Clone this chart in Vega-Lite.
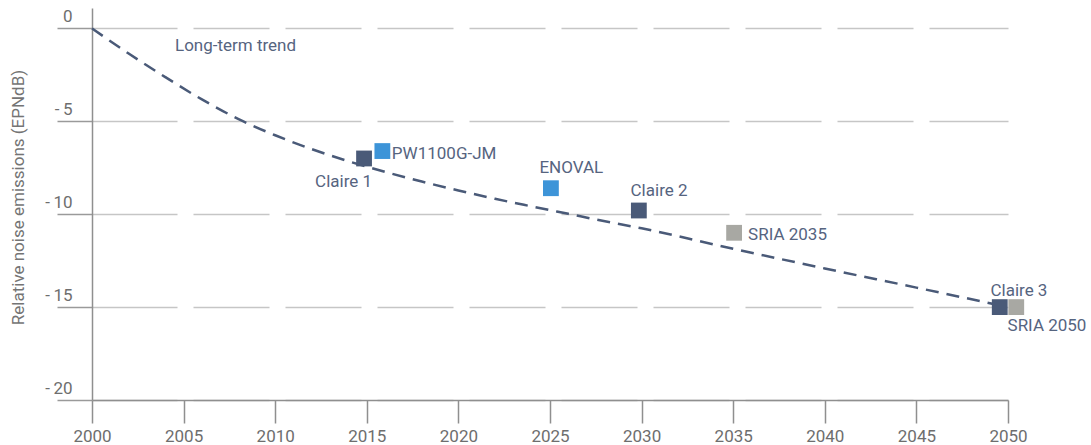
{
  "$schema": "https://vega.github.io/schema/vega-lite/v6.json",
  "width": 916,
  "height": 392,
  "autosize": {"type": "none"},
  "padding": {"left": 92, "top": 8, "right": 83, "bottom": 45},
  "background": "white",
  "config": {"view": {"stroke": null}, "font": "Roboto"},
  "datasets": {
    "trend": [
      {"year": 2000, "value": 0},
      {"year": 2002, "value": -1.35},
      {"year": 2004, "value": -2.62},
      {"year": 2006, "value": -3.82},
      {"year": 2008, "value": -4.88},
      {"year": 2010, "value": -5.75},
      {"year": 2012, "value": -6.5},
      {"year": 2014, "value": -7.15},
      {"year": 2016, "value": -7.72},
      {"year": 2018, "value": -8.24},
      {"year": 2020, "value": -8.72},
      {"year": 2022, "value": -9.17},
      {"year": 2024, "value": -9.58},
      {"year": 2026, "value": -9.98},
      {"year": 2028, "value": -10.38},
      {"year": 2030, "value": -10.76},
      {"year": 2035, "value": -11.86},
      {"year": 2040, "value": -12.92},
      {"year": 2045, "value": -13.95},
      {"year": 2050, "value": -15}
    ],
    "points": [
      {"name": "Claire 1", "group": "Claire", "year": 2014.85, "value": -7.0},
      {"name": "PW1100G-JM", "group": "Engine", "year": 2015.85, "value": -6.6},
      {"name": "ENOVAL", "group": "Engine", "year": 2025.05, "value": -8.6},
      {"name": "Claire 2", "group": "Claire", "year": 2029.85, "value": -9.8},
      {"name": "SRIA 2035", "group": "SRIA", "year": 2035.05, "value": -11.0},
      {"name": "Claire 3", "group": "Claire", "year": 2049.55, "value": -15.0},
      {"name": "SRIA 2050", "group": "SRIA", "year": 2050.45, "value": -15.0}
    ],
    "notes": [
      {"text": "Long-term trend", "year": 2004.53, "value": -0.92}
    ]
  },
  "layer": [
    {
      "data": {"name": "trend"},
      "mark": {"type": "line", "strokeDash": [13, 8], "strokeWidth": 2.5, "color": "#4a5a78", "interpolate": "monotone"},
      "encoding": {
        "x": {
          "field": "year", "type": "quantitative",
          "scale": {"domain": [2000, 2050], "nice": false, "zero": false},
          "axis": {
            "values": [2000, 2005, 2010, 2015, 2020, 2025, 2030, 2035, 2040, 2045, 2050],
            "format": "d", "title": null, "grid": false, "zindex": 1, "labelFlush": false,
            "labelFont": "Roboto", "labelFontSize": 17, "labelColor": "#6e6e6e", "labelPadding": 5,
            "tickSize": 23, "tickColor": "#8f8f8f", "tickWidth": 1.5,
            "domainColor": "#8f8f8f", "domainWidth": 1.5
          }
        },
        "y": {
          "field": "value", "type": "quantitative",
          "scale": {"domain": [-20, 1.1], "nice": false, "zero": false},
          "axis": {
            "values": [0, -5, -10, -15, -20],
            "title": "Relative noise emissions (EPNdB)",
            "titleFont": "Roboto", "titleFontSize": 17, "titleFontWeight": "normal", "titleColor": "#747474",
            "titleAngle": -90, "titleX": -74, "titleY": 189, "titleAlign": "center", "titleBaseline": "middle",
            "labelExpr": "datum.value == 0 ? '0' : '-\u2009' + abs(datum.value)",
            "labelFont": "Roboto", "labelFontSize": 17, "labelColor": "#6e6e6e", "labelFlush": false,
            "labelAlign": "right", "labelBaseline": "alphabetic", "labelPadding": -15, "labelOffset": -6.5,
            "tickSize": 35, "tickColor": "#9a9a9a", "tickWidth": 1.5,
            "domainColor": "#8f8f8f", "domainWidth": 1.5,
            "grid": true, "gridColor": "#c6c6c6", "gridWidth": 1.5,
            "gridDash": [85, 16, 76, 16, 76, 16, 76, 16, 76, 16, 76, 16, 76, 16, 76, 16, 76, 16, 90]
          }
        }
      }
    },
    {
      "data": {"name": "points"},
      "mark": {"type": "point", "shape": "square", "filled": true, "size": 250, "opacity": 1},
      "encoding": {
        "x": {"field": "year", "type": "quantitative"},
        "y": {"field": "value", "type": "quantitative"},
        "color": {
          "field": "group", "type": "nominal", "legend": null,
          "scale": {"domain": ["Claire", "Engine", "SRIA"], "range": ["#4a5a78", "#3d94d8", "#a8a8a3"]}
        }
      }
    },
    {
      "data": {"name": "notes"},
      "mark": {"type": "text", "align": "left", "baseline": "middle", "font": "Roboto", "fontSize": 17, "color": "#56647f"},
      "encoding": {
        "x": {"field": "year", "type": "quantitative"},
        "y": {"field": "value", "type": "quantitative"},
        "text": {"field": "text"}
      }
    },
    {
      "data": {"name": "points"},
      "transform": [{"filter": "datum.name == 'PW1100G-JM'"}],
      "mark": {"type": "text", "align": "left", "baseline": "middle", "dx": 9.5, "dy": 2.5, "font": "Roboto", "fontSize": 17, "color": "#56647f"},
      "encoding": {"x": {"field": "year", "type": "quantitative"}, "y": {"field": "value", "type": "quantitative"}, "text": {"field": "name"}}
    },
    {
      "data": {"name": "points"},
      "transform": [{"filter": "datum.name == 'Claire 1'"}],
      "mark": {"type": "text", "align": "right", "baseline": "middle", "dx": 8, "dy": 24, "font": "Roboto", "fontSize": 17, "color": "#56647f"},
      "encoding": {"x": {"field": "year", "type": "quantitative"}, "y": {"field": "value", "type": "quantitative"}, "text": {"field": "name"}}
    },
    {
      "data": {"name": "points"},
      "transform": [{"filter": "datum.name == 'ENOVAL'"}],
      "mark": {"type": "text", "align": "left", "baseline": "middle", "dx": -11.5, "dy": -20, "font": "Roboto", "fontSize": 17, "color": "#56647f"},
      "encoding": {"x": {"field": "year", "type": "quantitative"}, "y": {"field": "value", "type": "quantitative"}, "text": {"field": "name"}}
    },
    {
      "data": {"name": "points"},
      "transform": [{"filter": "datum.name == 'Claire 2'"}],
      "mark": {"type": "text", "align": "left", "baseline": "middle", "dx": -8.3, "dy": -19.7, "font": "Roboto", "fontSize": 17, "color": "#56647f"},
      "encoding": {"x": {"field": "year", "type": "quantitative"}, "y": {"field": "value", "type": "quantitative"}, "text": {"field": "name"}}
    },
    {
      "data": {"name": "points"},
      "transform": [{"filter": "datum.name == 'SRIA 2035'"}],
      "mark": {"type": "text", "align": "left", "baseline": "middle", "dx": 14, "dy": 2.3, "font": "Roboto", "fontSize": 17, "color": "#56647f"},
      "encoding": {"x": {"field": "year", "type": "quantitative"}, "y": {"field": "value", "type": "quantitative"}, "text": {"field": "name"}}
    },
    {
      "data": {"name": "points"},
      "transform": [{"filter": "datum.name == 'Claire 3'"}],
      "mark": {"type": "text", "align": "left", "baseline": "middle", "dx": -9.3, "dy": -16.5, "font": "Roboto", "fontSize": 17, "color": "#56647f"},
      "encoding": {"x": {"field": "year", "type": "quantitative"}, "y": {"field": "value", "type": "quantitative"}, "text": {"field": "name"}}
    },
    {
      "data": {"name": "points"},
      "transform": [{"filter": "datum.name == 'SRIA 2050'"}],
      "mark": {"type": "text", "align": "left", "baseline": "middle", "dx": -8.7, "dy": 18.5, "font": "Roboto", "fontSize": 17, "color": "#56647f"},
      "encoding": {"x": {"field": "year", "type": "quantitative"}, "y": {"field": "value", "type": "quantitative"}, "text": {"field": "name"}}
    }
  ]
}
